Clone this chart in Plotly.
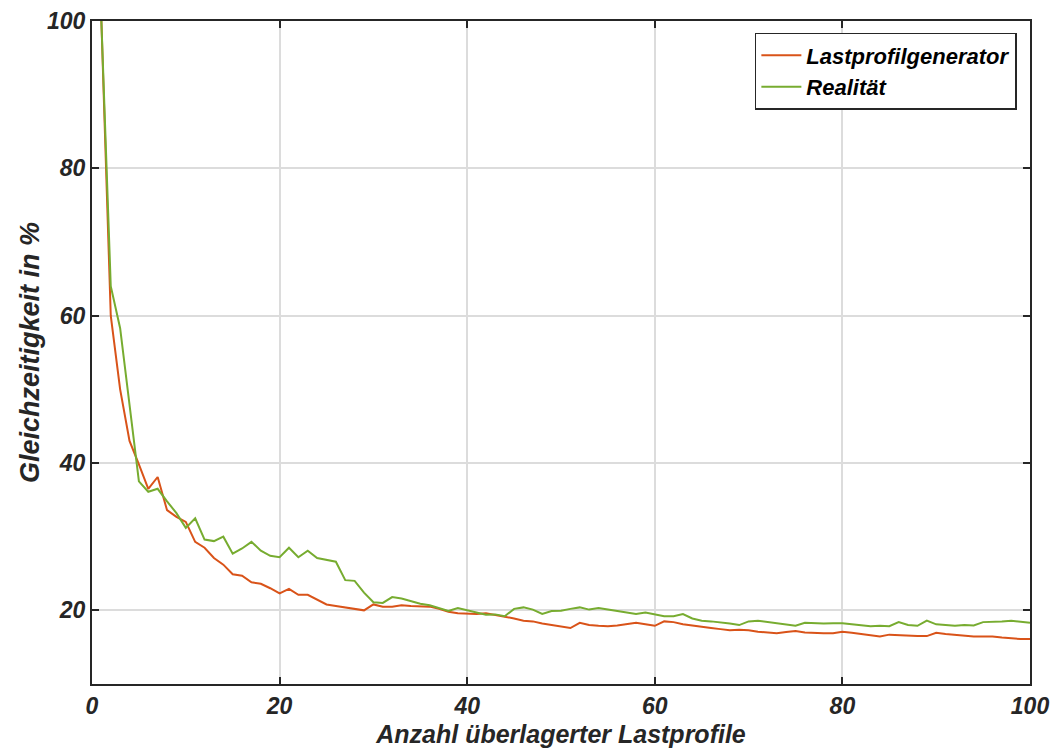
import plotly.graph_objects as go

x_vals = list(range(1, 101))

lastprofilgenerator = [
    100, 60, 50, 43, 39.8, 36.5, 38.1, 33.6, 32.7, 32.0,
    29.3, 28.5, 27.1, 26.2, 24.9, 24.7, 23.8, 23.6, 23.0, 22.3,
    22.9, 22.1, 22.1, 21.4, 20.8, 20.6, 20.4, 20.2, 20.0, 20.8,
    20.5, 20.5, 20.7, 20.6, 20.6, 20.5, 20.2, 19.8, 19.6, 19.5,
    19.5, 19.6, 19.4, 19.1, 18.9, 18.6, 18.5, 18.2, 18.0, 17.9,
    17.6, 18.3, 18.0, 17.9, 17.85, 17.95, 18.1, 18.3, 18.1, 17.9,
    18.5, 18.4, 18.1, 17.9, 17.8, 17.6, 17.45, 17.3, 17.35, 17.3,
    17.1, 17.0, 16.9, 17.05, 17.2, 17.0, 16.9, 16.9, 16.9, 17.1,
    16.95, 16.8, 16.6, 16.45, 16.7, 16.6, 16.55, 16.5, 16.5, 16.95,
    16.8, 16.65, 16.5, 16.45, 16.45, 16.45, 16.3, 16.15, 16.1, 16.1,
]

realitaet = [
    100, 64, 58.3, 48, 37.5, 36.1, 36.5, 34.8, 33.2, 31.2,
    32.5, 29.6, 29.4, 30.0, 27.7, 28.4, 29.3, 28.1, 27.4, 27.2,
    28.5, 27.2, 28.1, 27.1, 26.9, 26.6, 24.1, 24.0, 22.4, 21.1,
    21.0, 21.8, 21.6, 21.2, 20.9, 20.7, 20.3, 19.9, 20.3, 20.0,
    19.6, 19.4, 19.45, 19.2, 20.2, 20.4, 20.1, 19.5, 19.9, 19.95,
    20.2, 20.4, 20.1, 20.3, 20.1, 19.9, 19.7, 19.5, 19.7, 19.4,
    19.2, 19.2, 19.5, 18.9, 18.6, 18.5, 18.4, 18.2, 18.0, 18.5,
    18.6, 18.4, 18.25, 18.1, 17.9, 18.3, 18.2, 18.2, 18.25, 18.25,
    18.1, 18.0, 17.85, 17.9, 17.85, 18.4, 18.0, 17.9, 18.6, 18.1,
    17.95, 17.9, 18.0, 17.95, 18.4, 18.4, 18.5, 18.6, 18.45, 18.3,
]

x_ticks = [0, 20, 40, 60, 80, 100]
y_ticks = [20, 40, 60, 80, 100]

font_family = "Liberation Sans, Arial, sans-serif"

fig = go.Figure()
fig.add_trace(go.Scatter(x=x_vals, y=lastprofilgenerator, mode="lines",
                         name="<b><i>Lastprofilgenerator</i></b>",
                         line=dict(color="#D95319", width=2)))
fig.add_trace(go.Scatter(x=x_vals, y=realitaet, mode="lines",
                         name="<b><i>Realität</i></b>",
                         line=dict(color="#77AC30", width=2)))

axis_common = dict(
    showline=True, linecolor="#262626", linewidth=2, mirror="allticks",
    ticks="inside", ticklen=7, tickwidth=1.5, tickcolor="#262626",
    showgrid=True, gridcolor="#DCDCDC", gridwidth=1.5,
    zeroline=False, automargin=False,
    tickfont=dict(family=font_family, size=23, color="#262626", weight="bold", style="italic"),
)

fig.update_xaxes(range=[0, 100], tickvals=x_ticks,
                 title=dict(text="<b><i>Anzahl überlagerter Lastprofile</i></b>",
                            font=dict(family=font_family, size=25, color="#262626"),
                            standoff=8),
                 **axis_common)
fig.update_yaxes(range=[10, 100], tickvals=y_ticks,
                 title=dict(text="<b><i>Gleichzeitigkeit in %</i></b>",
                            font=dict(family=font_family, size=27, color="#262626"),
                            standoff=0),
                 **axis_common)

fig.update_layout(
    width=1053, height=756,
    margin=dict(l=92, r=23, t=21, b=72),
    plot_bgcolor="white", paper_bgcolor="white",
    showlegend=True,
    legend=dict(x=0.986, y=0.982, xanchor="right", yanchor="top",
                bgcolor="white", bordercolor="#262626", borderwidth=1.5,
                font=dict(family=font_family, size=22, color="black"),
                tracegroupgap=0, itemwidth=40),
)

fig.write_html("out.html")
